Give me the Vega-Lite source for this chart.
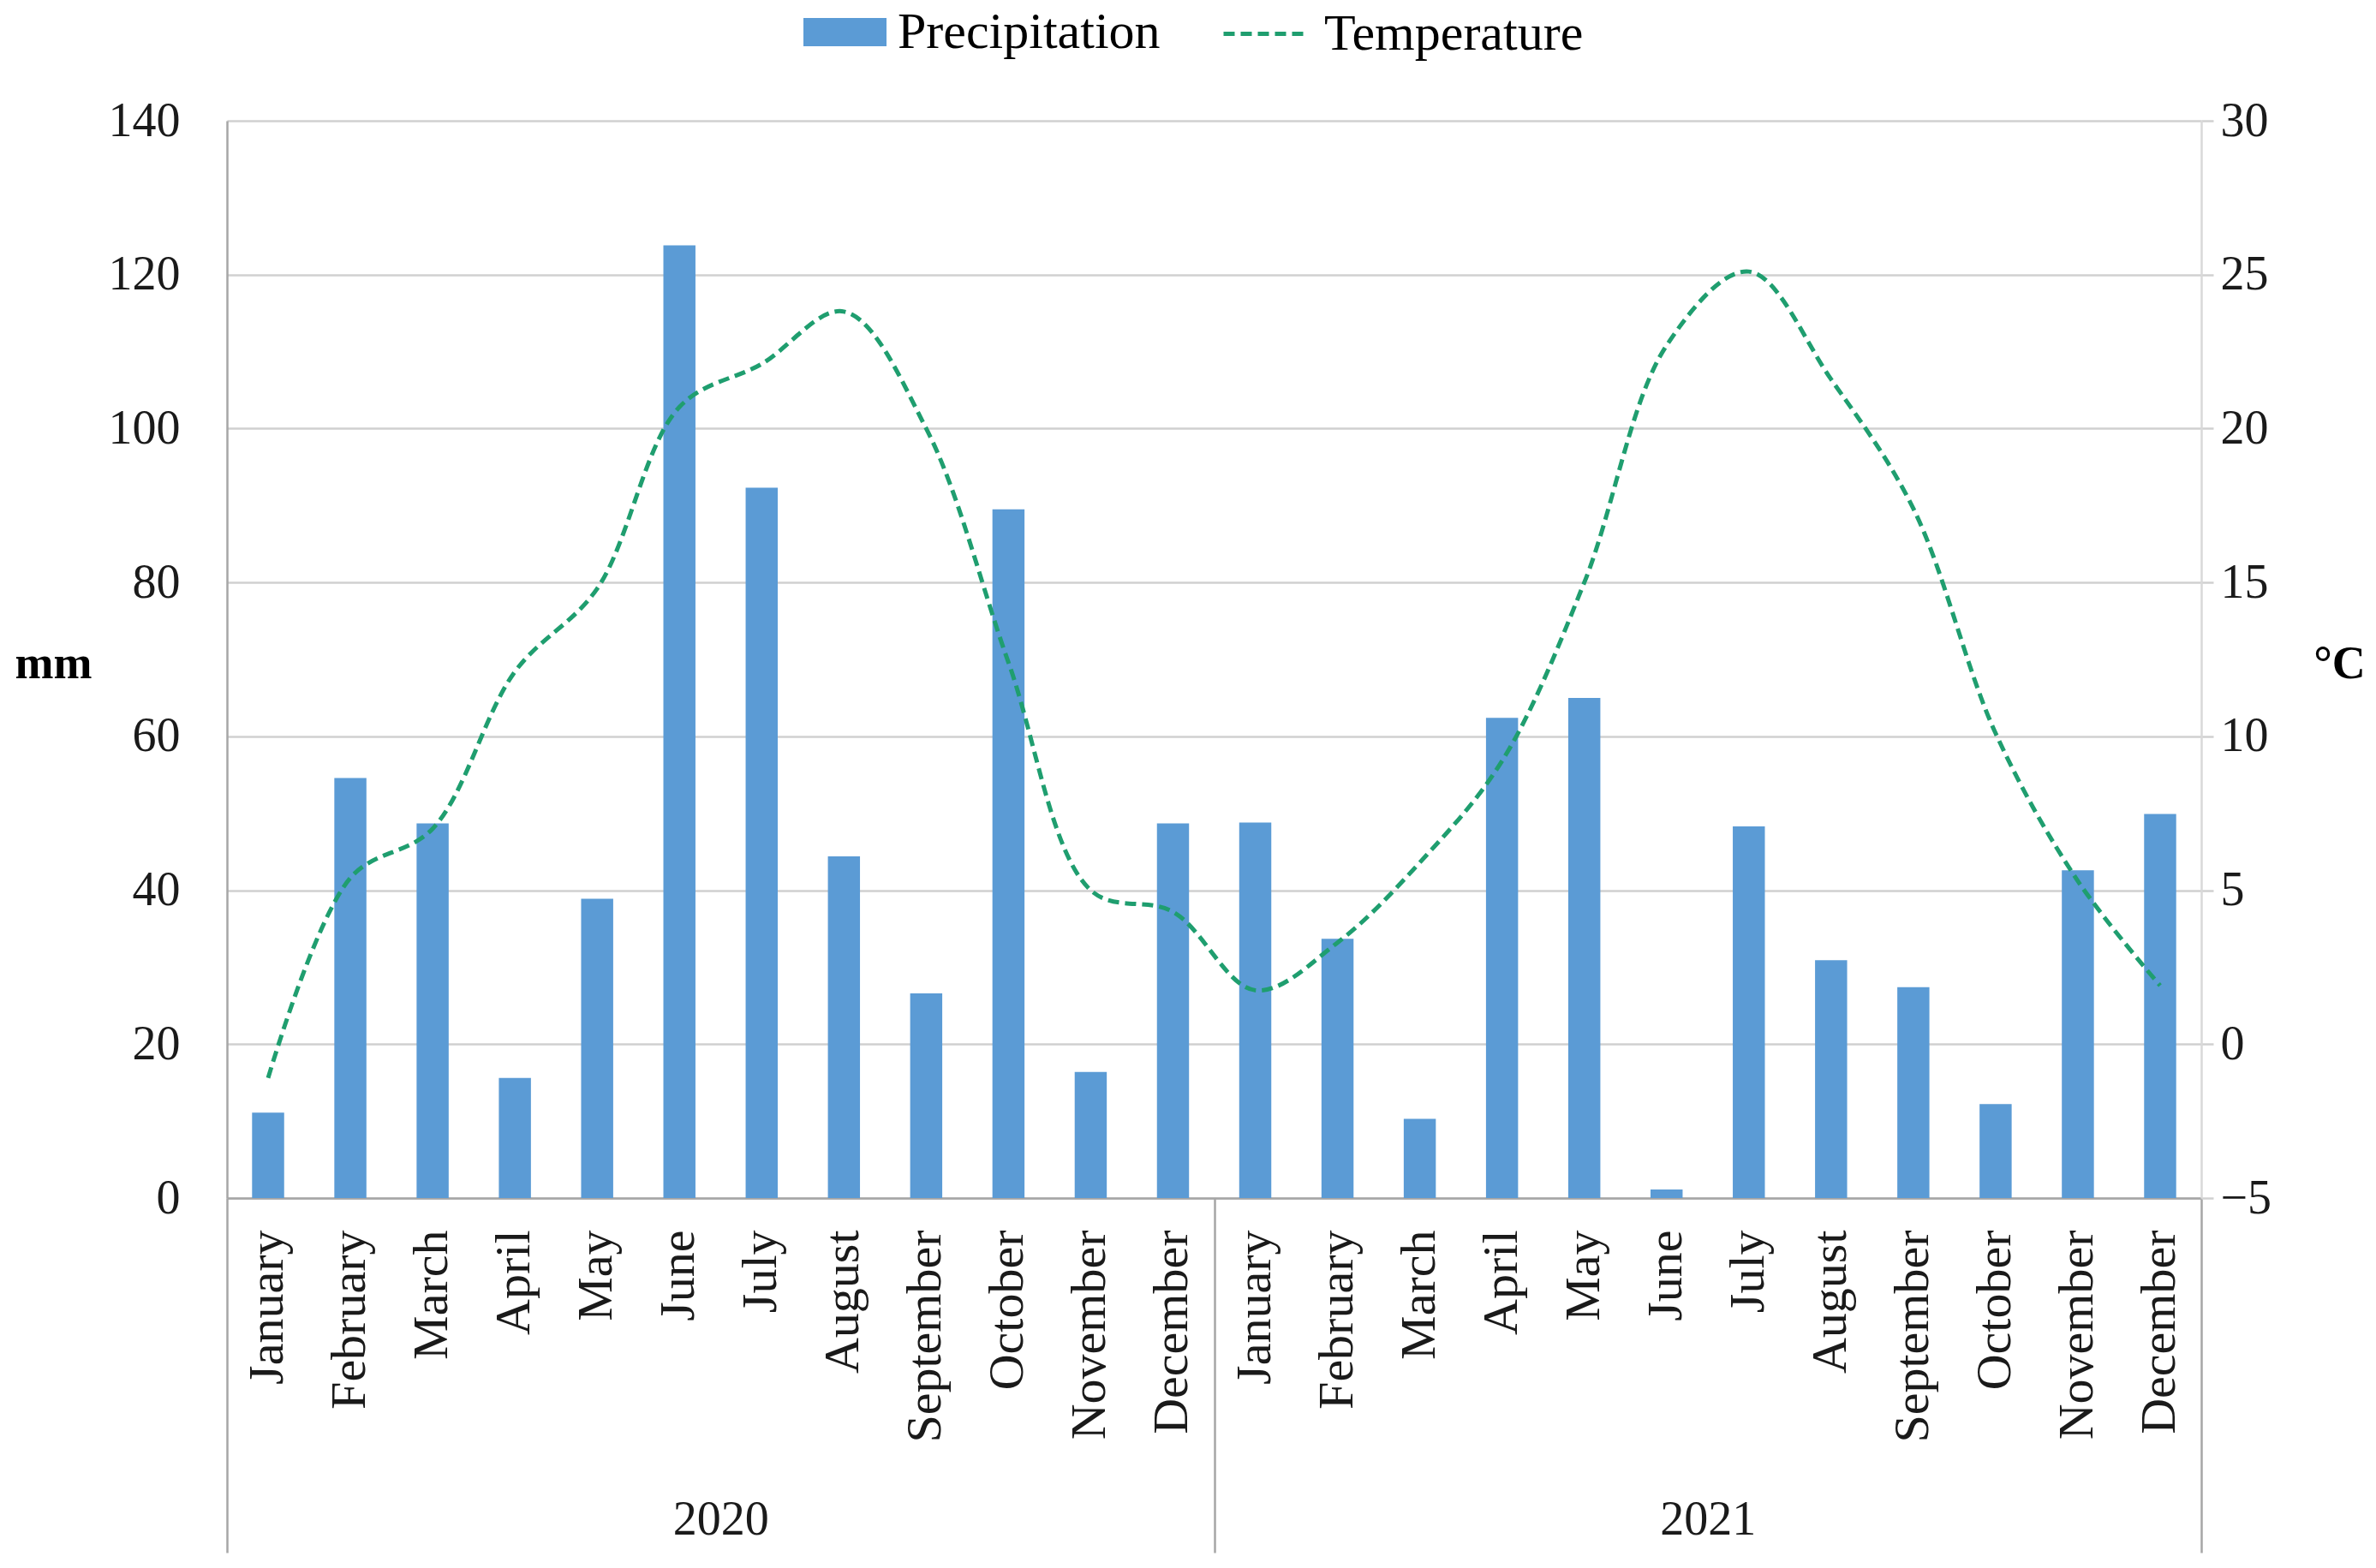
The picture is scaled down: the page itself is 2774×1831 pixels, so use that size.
{
  "$schema": "https://vega.github.io/schema/vega-lite/v6.json",
  "width": 2305,
  "height": 1258,
  "autosize": {"type": "none"},
  "padding": {"left": 265, "top": 141, "right": 204, "bottom": 432},
  "background": "white",
  "config": {
    "view": {"stroke": null},
    "font": "Liberation Serif",
    "axis": {
      "labelFont": "Liberation Serif",
      "labelColor": "#1a1a1a",
      "labelLimit": 1000,
      "titleFont": "Liberation Serif",
      "titleColor": "#000000"
    },
    "legend": {"labelLimit": 1000}
  },
  "datasets": {
    "monthly": [
      {"key": "2020-01", "precip": 11.1, "temp": -1.1},
      {"key": "2020-02", "precip": 54.6, "temp": 5.4},
      {"key": "2020-03", "precip": 48.7, "temp": 7.0},
      {"key": "2020-04", "precip": 15.6, "temp": 12.1},
      {"key": "2020-05", "precip": 38.9, "temp": 14.8},
      {"key": "2020-06", "precip": 123.8, "temp": 20.7},
      {"key": "2020-07", "precip": 92.3, "temp": 22.1},
      {"key": "2020-08", "precip": 44.4, "temp": 23.8},
      {"key": "2020-09", "precip": 26.6, "temp": 20.0},
      {"key": "2020-10", "precip": 89.5, "temp": 12.4},
      {"key": "2020-11", "precip": 16.4, "temp": 5.0},
      {"key": "2020-12", "precip": 48.7, "temp": 4.3},
      {"key": "2021-01", "precip": 48.8, "temp": 1.75},
      {"key": "2021-02", "precip": 33.7, "temp": 3.3},
      {"key": "2021-03", "precip": 10.3, "temp": 5.9},
      {"key": "2021-04", "precip": 62.4, "temp": 9.2},
      {"key": "2021-05", "precip": 65.0, "temp": 15.0},
      {"key": "2021-06", "precip": 1.1, "temp": 22.7},
      {"key": "2021-07", "precip": 48.3, "temp": 25.1},
      {"key": "2021-08", "precip": 30.9, "temp": 21.6},
      {"key": "2021-09", "precip": 27.4, "temp": 17.4},
      {"key": "2021-10", "precip": 12.2, "temp": 10.1},
      {"key": "2021-11", "precip": 42.6, "temp": 5.3},
      {"key": "2021-12", "precip": 49.9, "temp": 1.9}
    ],
    "years": [
      {"year": "2020"},
      {"year": "2021"}
    ]
  },
  "layer": [
    {
      "data": {"name": "monthly"},
      "encoding": {
        "x": {
          "field": "key",
          "type": "nominal",
          "sort": "ascending",
          "scale": {"paddingInner": 0.61, "paddingOuter": 0.305},
          "axis": {
            "orient": "bottom",
            "title": null,
            "ticks": false,
            "grid": false,
            "domainColor": "#a6a6a6",
            "domainWidth": 2.5,
            "labelAngle": -90,
            "labelAlign": "right",
            "labelBaseline": "middle",
            "labelFontSize": 58,
            "labelPadding": 37,
            "labelExpr": "['January','February','March','April','May','June','July','August','September','October','November','December'][toNumber(substring(datum.value, 5, 7)) - 1]"
          }
        }
      },
      "layer": [
        {
          "mark": {"type": "bar"},
          "encoding": {
            "y": {
              "field": "precip",
              "type": "quantitative",
              "scale": {"domain": [0, 140], "nice": false},
              "axis": {
                "orient": "left",
                "values": [0, 20, 40, 60, 80, 100, 120, 140],
                "title": "mm",
                "titleAngle": 0,
                "titleFontSize": 54,
                "titleFontWeight": "bold",
                "titleAlign": "center",
                "titleBaseline": "middle",
                "titleX": -203,
                "titleY": 634,
                "ticks": false,
                "labelFontSize": 56,
                "labelPadding": 55,
                "domainColor": "#a6a6a6",
                "domainWidth": 2.5,
                "grid": true,
                "gridColor": "#d0d0d0",
                "gridWidth": 2.5
              }
            },
            "color": {
              "datum": "Precipitation",
              "type": "nominal",
              "scale": {"range": ["#5b9bd5"]},
              "legend": {
                "orient": "none",
                "legendX": 673,
                "legendY": -152,
                "title": null,
                "padding": 0,
                "symbolType": "M-1,-0.34H1V0.34H-1Z",
                "symbolSize": 9409,
                "symbolStrokeWidth": 0,
                "symbolOpacity": 1,
                "labelFont": "Liberation Serif",
                "labelFontSize": 60,
                "labelColor": "#000000",
                "labelOffset": 13
              }
            }
          }
        },
        {
          "mark": {
            "type": "line",
            "color": "#1f9e6f",
            "strokeWidth": 5,
            "interpolate": "catmull-rom"
          },
          "encoding": {
            "y": {
              "field": "temp",
              "type": "quantitative",
              "scale": {"domain": [-5, 30], "nice": false, "zero": false},
              "axis": {
                "orient": "right",
                "values": [-5, 0, 5, 10, 15, 20, 25, 30],
                "title": "°C",
                "titleAngle": 0,
                "titleFontSize": 54,
                "titleFontWeight": "bold",
                "titleAlign": "center",
                "titleBaseline": "middle",
                "titleX": 161,
                "titleY": 634,
                "grid": false,
                "ticks": true,
                "tickSize": 14,
                "tickColor": "#d0d0d0",
                "tickWidth": 2.5,
                "labelFontSize": 56,
                "labelPadding": 8,
                "domainColor": "#d9d9d9",
                "domainWidth": 2.5
              }
            },
            "strokeDash": {
              "datum": "Temperature",
              "type": "nominal",
              "scale": {"range": [[13, 7]]},
              "legend": {
                "orient": "none",
                "legendX": 1161,
                "legendY": -152,
                "title": null,
                "padding": 0,
                "symbolType": "stroke",
                "symbolSize": 9216,
                "symbolStrokeColor": "#1f9e6f",
                "symbolStrokeWidth": 5,
                "symbolDash": [13, 7],
                "labelFont": "Liberation Serif",
                "labelFontSize": 60,
                "labelColor": "#000000",
                "labelOffset": 19
              }
            }
          }
        }
      ],
      "resolve": {"scale": {"y": "independent"}}
    },
    {
      "data": {"name": "years"},
      "mark": {"type": "point", "opacity": 0},
      "encoding": {
        "x": {
          "field": "year",
          "type": "nominal",
          "scale": {"paddingInner": 0, "paddingOuter": 0},
          "axis": {
            "orient": "bottom",
            "title": null,
            "domain": false,
            "grid": false,
            "ticks": true,
            "tickBand": "extent",
            "tickSize": 414,
            "tickColor": "#a6a6a6",
            "tickWidth": 2.5,
            "labelAngle": 0,
            "labelAlign": "center",
            "labelBaseline": "middle",
            "labelFontSize": 56,
            "labelPadding": -39
          }
        }
      }
    }
  ],
  "resolve": {"scale": {"x": "independent"}}
}
